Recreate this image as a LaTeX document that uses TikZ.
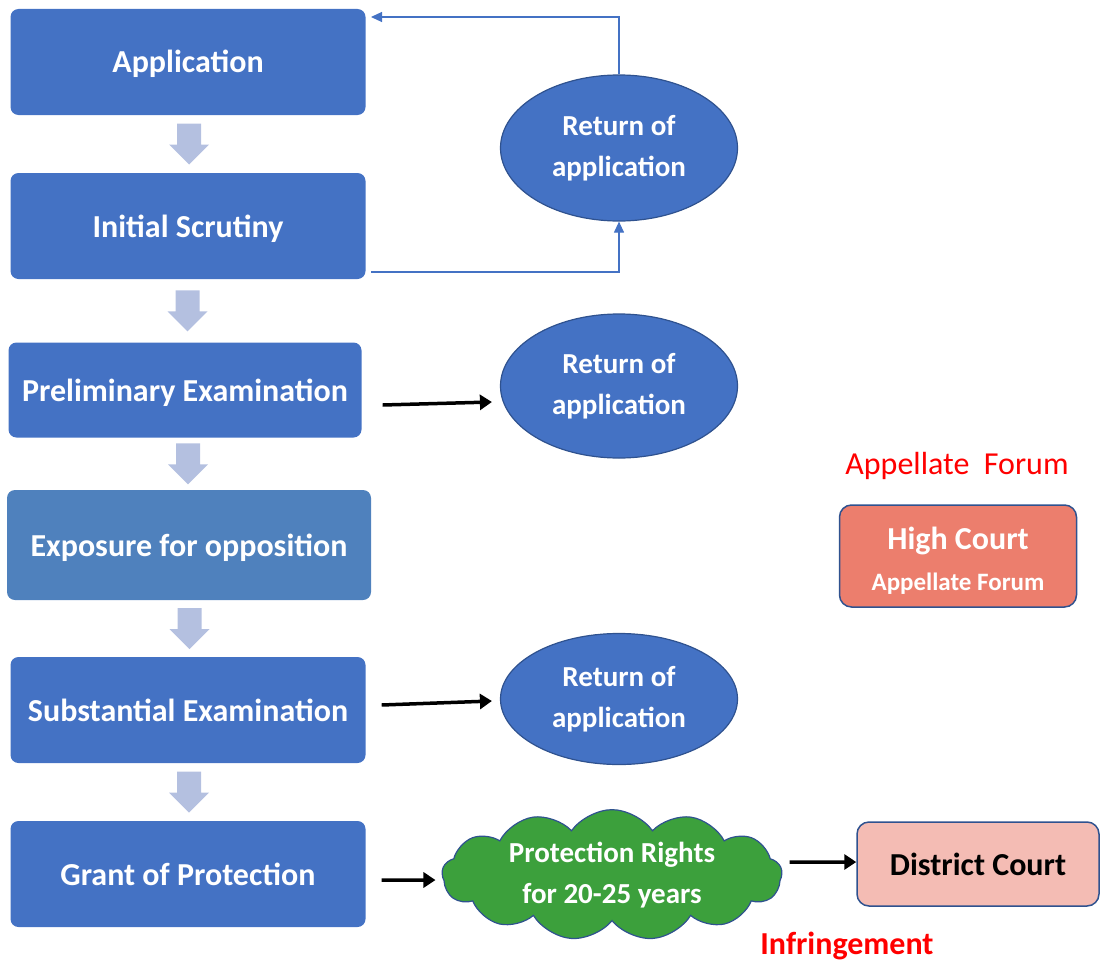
\documentclass[tikz,border=0pt]{standalone}
\usepackage{fontspec}
\setmainfont{Carlito}
\usetikzlibrary{shapes.geometric,shapes.symbols,arrows.meta,calc}
\definecolor{stepblue}{RGB}{68,114,196}
\definecolor{expblue}{RGB}{79,129,189}
\definecolor{arrblue}{RGB}{180,192,224}
\definecolor{edgeblue}{RGB}{47,82,143}
\definecolor{courtred}{RGB}{236,126,109}
\definecolor{courtpink}{RGB}{244,188,180}
\definecolor{cloudgreen}{RGB}{60,160,60}
\definecolor{fred}{RGB}{255,0,0}
\tikzset{
  stage/.style={rectangle,rounded corners=8pt,fill=stepblue,text=white,inner sep=0pt,
    minimum width=355pt,minimum height=106pt,text height=24pt,text depth=2pt,
    font=\fontsize{32}{38}\selectfont\bfseries},
  retapp/.style={ellipse,draw=edgeblue,line width=1.2pt,fill=stepblue,text=white,align=center,
    inner sep=0pt,minimum width=237pt,minimum height=146pt,font=\fontsize{29}{41}\selectfont\bfseries},
  court/.style={rectangle,rounded corners=12pt,draw=edgeblue,line width=1.5pt,inner sep=0pt,align=center},
  blk/.style={line width=3.5pt,-{Triangle[length=12pt,width=15pt]}},
  fb/.style={stepblue,line width=1.1pt,-{Triangle[length=11pt,width=10pt]}},
}

\begin{document}
\begin{tikzpicture}[x=1pt,y=-1pt]
  \useasboundingbox (0,0) rectangle (1100,966);
  % main stages
  \node[stage] (appl) at (188,62) {Application};
  \node[stage] (scr)  at (188,226) {Initial Scrutiny};
  \node[stage,minimum width=353pt,minimum height=95pt] (prel) at (185,390) {Preliminary Examination};
  \node[stage,fill=expblue,minimum width=364pt,minimum height=110pt] (expo) at (189,545) {Exposure for opposition};
  \node[stage] (subs) at (188,710) {Substantial Examination};
  \node[stage] (grant) at (188,874) {Grant of Protection};
  % block arrows between the stages
  \foreach \u/\v in {appl/scr,scr/prel,prel/expo,expo/subs,subs/grant}
    \fill[arrblue] ($(\u.south)!0.5!(\v.north)+(1,0)$) ++(-12,-20.5) -- ++(24,0) -- ++(0,21)
      -- ++(8,0) -- ++(-20,20) -- ++(-20,-20) -- ++(8,0) -- cycle;
  % returns
  \node[retapp] (ret1) at (619,148) {Return of\\application};
  \node[retapp,minimum height=144pt] (ret2) at (619,386) {Return of\\application};
  \node[retapp,minimum height=131pt] (ret3) at (619,699) {Return of\\application};
  \coordinate (fbA) at (371,272);
  \coordinate (fbB) at (371,17);
  \draw[fb] (fbA) -| (ret1.south);
  \draw[fb] (ret1.north) |- (fbB);
  \draw[blk] ($(prel.east)+(21,15)$) -- ($(ret2.west)+(-8,16)$);
  \draw[blk] ($(subs.east)+(16,-5)$) -- ($(ret3.west)+(-8,2)$);
  % protection and courts
  \node[cloud,cloud puffs=13,cloud puff arc=110,aspect=3,draw=edgeblue,line width=1.2pt,
    fill=cloudgreen,text=white,align=center,inner sep=0pt,minimum width=340pt,minimum height=120pt,
    font=\fontsize{29}{41}\selectfont\bfseries] (prot) at (612,875) {Protection Rights\\for 20-25 years};
  \draw[blk] ($(grant.east)+(16,6)$) -- ($(prot.west)+(-6,5)$);
  \node[court,fill=courtpink,minimum width=242pt,minimum height=84pt,
    font=\fontsize{32}{38}\selectfont\bfseries] (dist) at (978,864) {District Court};
  \draw[blk] ($(prot.east)+(7,-13)$) -- ($(dist.west)+(0,-2)$);
  \node[court,fill=courtred,text=white,minimum width=237pt,minimum height=102pt,text height=68pt,text depth=0pt,
    font=\fontsize{32}{42}\selectfont\bfseries] (high) at (958,556)
    {High Court\\[-1pt]{\fontsize{25}{30}\selectfont Appellate Forum}};
  \node[text=fred,font=\fontsize{32}{38}\selectfont] (appf) at (957,466) {Appellate\ \ Forum};
  \node[text=fred,font=\fontsize{32}{38}\selectfont\bfseries] (infr) at (847,946) {Infringement};
\end{tikzpicture}
\end{document}
